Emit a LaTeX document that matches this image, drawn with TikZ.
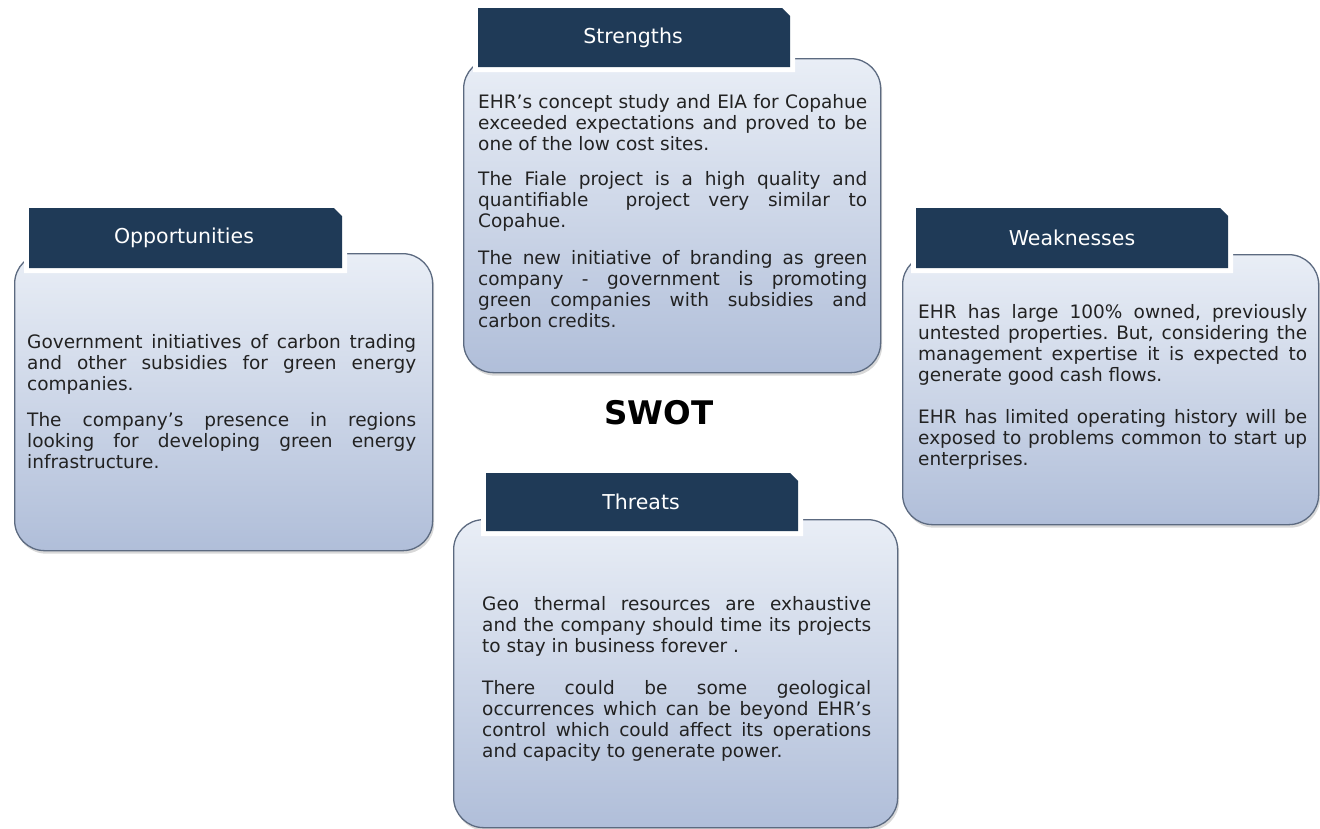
\documentclass[tikz,border=0pt]{standalone}
\usepackage{fontspec}
\setmainfont{DejaVu Sans}
\usetikzlibrary{shadows}
\definecolor{navy}{RGB}{31,58,87}
\definecolor{boxtop}{RGB}{233,238,246}
\definecolor{boxbot}{RGB}{176,190,217}
\definecolor{boxline}{RGB}{92,106,128}
\definecolor{bodygray}{RGB}{34,34,34}
\hyphenpenalty=10000
\exhyphenpenalty=10000
\frenchspacing
\tikzset{
  swotbox/.style={rounded corners=30pt, top color=boxtop, bottom color=boxbot,
    draw=boxline, line width=1.3pt, inner sep=0pt, anchor=north west,
    drop shadow={shadow xshift=1.5pt, shadow yshift=-3pt, opacity=0.22, fill=black!70}},
  tabshape/.style={fill=navy, preaction={draw=white, line width=10pt}},
  tabtitle/.style={text=white, font=\fontsize{20.5}{24}\selectfont, inner sep=0pt},
  bodytxt/.style={anchor=north west, inner sep=0pt, text width=389pt, text=bodygray,
    align=justify, font=\fontsize{18.5}{21}\selectfont},
}
\newcommand\swottab[4]{\path[tabshape] (#1,#4) -- (#1,#2) -- ({#3-8},#2) -- (#3,{#2+8}) -- (#3,#4) -- cycle;}
\begin{document}
\begin{tikzpicture}[x=1pt,y=-1pt]
\useasboundingbox (0,0) rectangle (1320,828);
% boxes
\node[swotbox, minimum width=417pt, minimum height=314pt] (boxS) at (463,58) {};
\node[swotbox, minimum width=418pt, minimum height=297pt] (boxO) at (14,253) {};
\node[swotbox, minimum width=416pt, minimum height=270pt] (boxW) at (902,254) {};
\node[swotbox, minimum width=444pt, minimum height=308pt] (boxT) at (453,519) {};
% tabs
\swottab{478}{8}{790}{67}
\swottab{29}{208}{342}{268}
\swottab{916}{208}{1228}{268}
\swottab{486}{473}{798}{531}
\node[tabtitle] (tS) at (633,38) {Strengths};
\node[tabtitle] (tO) at (184,238) {Opportunities};
\node[tabtitle] (tW) at (1072,238) {Weaknesses};
\node[tabtitle] (tT) at (641,502) {Threats};
% SWOT
\node[font=\bfseries\fontsize{32.5}{38}\selectfont, inner sep=0pt] (swot) at (659,413) {SWOT};
% texts
\node[bodytxt] (bS) at (478,94) {EHR’s concept study and EIA for Copahue\linebreak
exceeded expectations and proved to be\linebreak
one of the low cost sites.\par\vspace{14pt}
The Fiale project is a high quality and\linebreak
quantifiable \ project very similar to\linebreak
Copahue.\par\vspace{16pt}
The new initiative of branding as green\linebreak
company - government is promoting\linebreak
green companies with subsidies and\linebreak
carbon credits.};
\node[bodytxt] (bO) at (27,334) {Government initiatives of carbon trading\linebreak
and other subsidies for green energy\linebreak
companies.\par\vspace{15pt}
The company’s presence in regions\linebreak
looking for developing green energy\linebreak
infrastructure.};
\node[bodytxt] (bW) at (918,304) {EHR has large 100\% owned, previously\linebreak
untested properties. But, considering the\linebreak
management expertise it is expected to\linebreak
generate good cash flows.\par\vspace{21pt}
EHR has limited operating history will be\linebreak
exposed to problems common to start up\linebreak
enterprises.};
\node[bodytxt] (bT) at (482,596) {Geo thermal resources are exhaustive\linebreak
and the company should time its projects\linebreak
to stay in business forever .\par\vspace{21pt}
There could be some geological\linebreak
occurrences which can be beyond EHR’s\linebreak
control which could affect its operations\linebreak
and capacity to generate power.};
\end{tikzpicture}
\end{document}
